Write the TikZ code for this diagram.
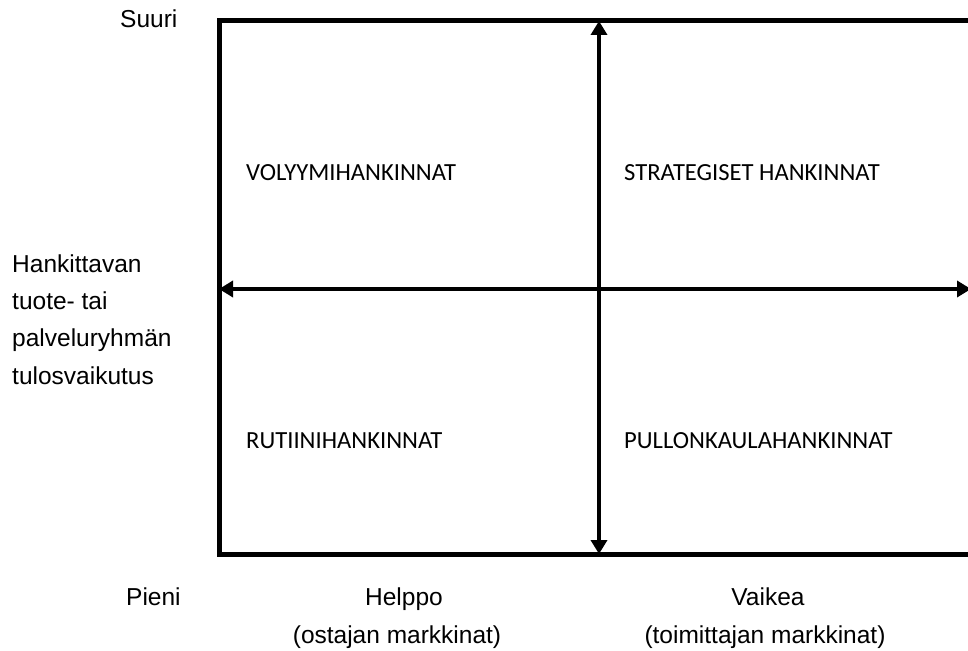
\documentclass[tikz,border=0pt]{standalone}
\usepackage{fontspec}
\setmainfont{Liberation Sans}
\newfontfamily\quadfont{Carlito}
\usetikzlibrary{arrows.meta}
\begin{document}
\begin{tikzpicture}[x=1pt,y=-1pt,
  axislabel/.style={inner sep=0pt,font=\fontsize{24.5}{29}\selectfont},
  quadlabel/.style={inner sep=0pt,anchor=base west,font=\quadfont\fontsize{24.6}{29}\selectfont},
  frameline/.style={line width=5pt},
  axisarrow/.style={line width=4.3pt,{Triangle[length=14pt,width=16pt]}-{Triangle[length=14pt,width=16pt]}}]
\useasboundingbox (0,0) rectangle (968,650);
\clip (0,0) rectangle (968,650);
% frame corners
\coordinate (tl) at (219,21);
\coordinate (bl) at (219,554);
\coordinate (tr) at (975,21);
\coordinate (br) at (975,554);
\coordinate (vt) at (599,21);
\coordinate (vb) at (599,554);
\coordinate (hl) at (219,289);
\coordinate (hr) at (971,289);
\draw[frameline] (tr) -- (tl) -- (bl) -- (br);
\draw[axisarrow] (vb) -- (vt);
\draw[axisarrow] (hl) -- (hr);
% quadrant labels
\node[quadlabel] (q1) at (246,180) {VOLYYMIHANKINNAT};
\node[quadlabel] (q2) at (624,180) {STRATEGISET HANKINNAT};
\node[quadlabel] (q3) at (246,448) {RUTIINIHANKINNAT};
\node[quadlabel] (q4) at (624,448) {PULLONKAULAHANKINNAT};
% axis labels
\node[axislabel,anchor=base west] (suuri) at (120,28) {Suuri};
\node[axislabel,anchor=base west] (y1) at (12,272) {Hankittavan};
\node[axislabel,anchor=base west] (y2) at (12,309) {tuote- tai};
\node[axislabel,anchor=base west] (y3) at (12,346) {palveluryhmän};
\node[axislabel,anchor=base west] (y4) at (12,384) {tulosvaikutus};
\node[axislabel,anchor=base west] (pieni) at (126,605) {Pieni};
\node[axislabel,anchor=base] (helppo) at (404,605) {Helppo};
\node[axislabel,anchor=base] (ostaja) at (397,643) {(ostajan markkinat)};
\node[axislabel,anchor=base] (vaikea) at (768,605) {Vaikea};
\node[axislabel,anchor=base] (toimittaja) at (765,643) {(toimittajan markkinat)};
\end{tikzpicture}
\end{document}
